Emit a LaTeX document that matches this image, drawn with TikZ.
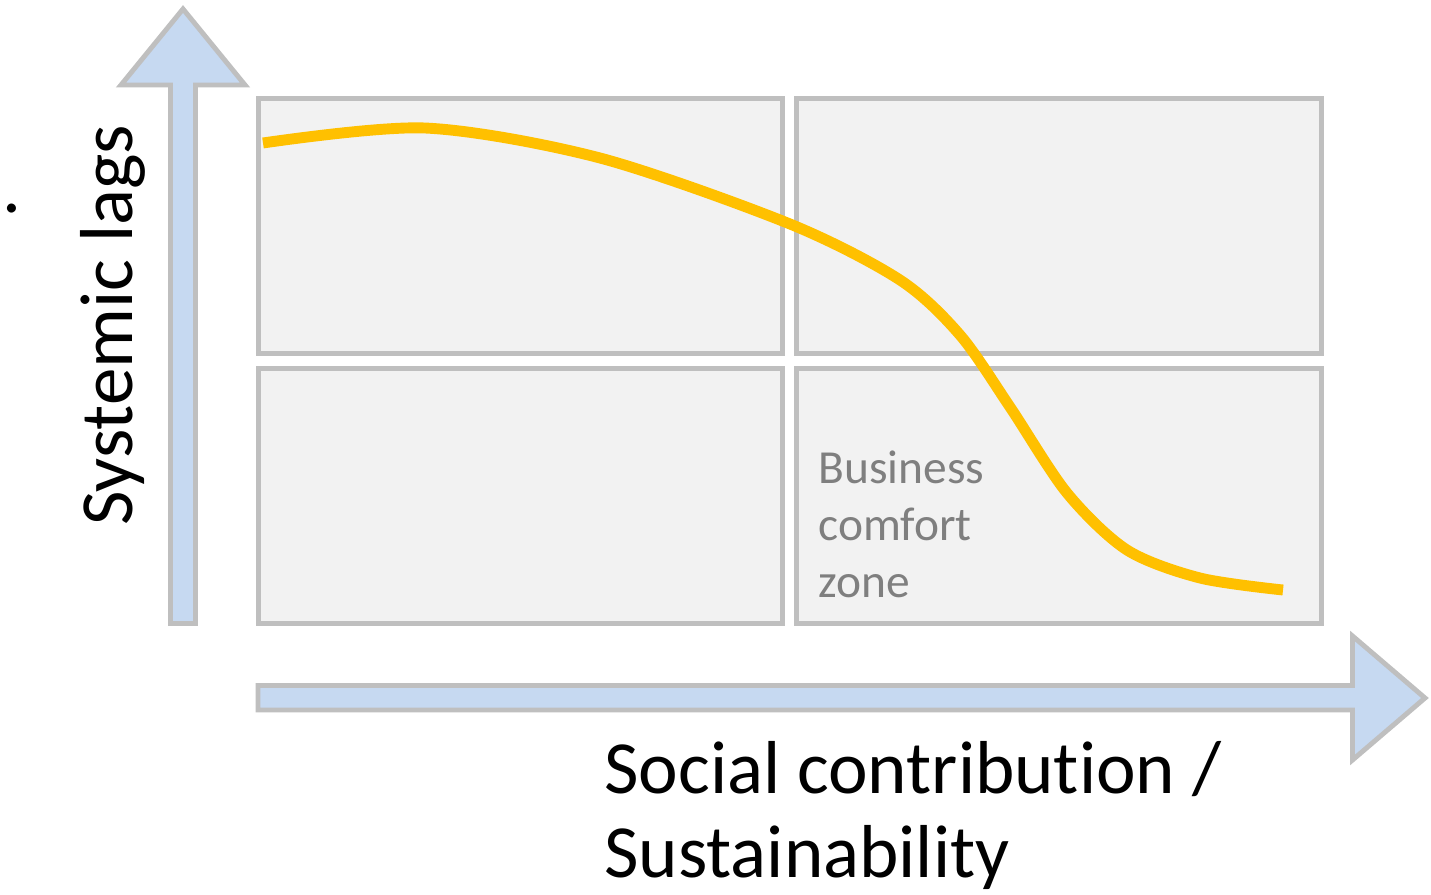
\documentclass[tikz,border=0pt]{standalone}
\usepackage{fontspec}
\setmainfont{Carlito}[Ligatures=NoCommon]
\usepackage{tikz}
\usetikzlibrary{positioning}
\definecolor{lightblue}{HTML}{C6D9F1}
\definecolor{boxgray}{HTML}{BFBFBF}
\definecolor{boxfill}{HTML}{F2F2F2}
\definecolor{textgray}{HTML}{7F7F7F}
\definecolor{curveyellow}{HTML}{FFC000}
\begin{document}
\begin{tikzpicture}[x=0.02cm,y=-0.02cm,% one unit is one pixel of the sketch
			every node/.style={
				align=left,		% so that "\\" breaks the line
				inner sep=0pt
			},
			quad/.style={rectangle,draw=boxgray,fill=boxfill,line width=2.8pt,
				minimum width=10.5cm,minimum height=5.1cm},
			axis/.style={draw=boxgray,fill=lightblue,line width=2.8pt,line join=miter}
		]
		\useasboundingbox (0,0) rectangle (1431,895);
		% the two axes
		\path[axis] (170.5,623.5) -- (170.5,85) -- (121,85) -- (183,9) -- (245,85)
			-- (195.5,85) -- (195.5,623.5) -- cycle;
		\path[axis] (258,685.5) -- (1352.5,685.5) -- (1352.5,636) -- (1425,698)
			-- (1352.5,760) -- (1352.5,710) -- (258,710) -- cycle;
		% the four quadrants
		\node[quad](R1) at (520.5,226){};
		\node[quad](R2)[right=0.18cm of R1]{};
		\node[quad](R3)[below=0.2cm of R1]{};
		\node[quad](R4)[below=0.2cm of R2]{};
		% the curve
		\draw[curveyellow,line width=6.2pt] plot[smooth,tension=0.5] coordinates {
			(263,143) (425,128) (600,158) (790,224) (900,280) (960,335)
			(1010,407) (1067,493) (1127,550) (1200,578) (1283,590)};
		% labels (base west is the baseline of the last line)
		\node[anchor=base west,text=textgray,font=\fontsize{27}{32.4}\selectfont](L1)
			at (818,597){Business\\comfort\\zone};
		\node[anchor=base west,font=\fontsize{42.7}{47.8}\selectfont](L2)
			at (604,877){Social contribution /\\Sustainability};
		\node[anchor=base west,rotate=90,font=\fontsize{42.7}{47.8}\selectfont](L3)
			at (132,526){Systemic lags};
		\node[anchor=base west,font=\fontsize{42.7}{47.8}\selectfont](L4)
			at (2,213){.};
	\end{tikzpicture}
\end{document}
